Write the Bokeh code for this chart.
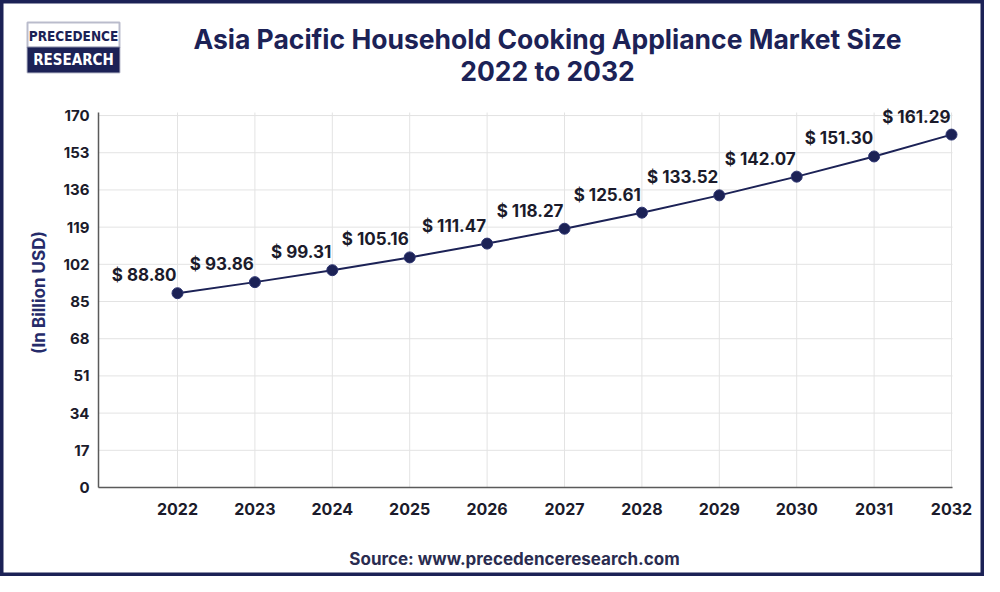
from bokeh.plotting import figure
from bokeh.models import (Range1d, FixedTicker, Label, LabelSet, ColumnDataSource,
                          BoxAnnotation)
from bokeh.core.properties import value
from bokeh.embed import file_html
from bokeh.resources import INLINE
import math

# ---- data ----
years = [2022, 2023, 2024, 2025, 2026, 2027, 2028, 2029, 2030, 2031, 2032]
values = [88.80, 93.86, 99.31, 105.16, 111.47, 118.27, 125.61, 133.52, 142.07, 151.30, 161.29]
value_labels = ["$ %.2f" % v for v in values]
y_ticks = [0, 17, 34, 51, 68, 85, 102, 119, 136, 153, 170]
x_ticks = years

title_line1 = "Asia Pacific Household Cooking Appliance Market Size"
title_line2 = "2022 to 2032"
y_label = "(In Billion USD)"
source_text = "Source: www.precedenceresearch.com"

NAVY = "#1c2256"
DARK = "#1b1b2b"
FONT = "Inter"
LOGO_FONT = "DejaVu Sans Condensed, Roboto, sans-serif"

W, H = 984, 576

# helpers converting picture pixels to data coordinates (text/logo placement)
def rx(X):
    return 2022 + (X - 177) / 77.4

def ry(Y):
    return (487 - Y) / 2.188

X_LEFT, X_RIGHT = rx(98), rx(952)
Y_TOP = ry(112)

p = figure(width=W, height=H, output_backend="svg", toolbar_location=None,
           x_range=Range1d(rx(0), rx(W)), y_range=Range1d(ry(H), ry(0)),
           min_border=0, min_border_left=0, min_border_right=0,
           min_border_top=0, min_border_bottom=0)
p.outline_line_color = NAVY
p.outline_line_width = 6
p.background_fill_color = "white"
p.border_fill_color = "white"
p.xgrid.visible = False
p.ygrid.visible = False

# grid lines from the tick arrays
p.segment(x0=x_ticks, y0=[0] * len(x_ticks), x1=x_ticks, y1=[Y_TOP] * len(x_ticks),
          line_color="#e3e3e3", line_width=1)
p.segment(x0=[X_LEFT] * len(y_ticks), y0=y_ticks, x1=[X_RIGHT] * len(y_ticks), y1=y_ticks,
          line_color="#e3e3e3", line_width=1)

# axes placed at fixed locations inside the canvas
p.xaxis.ticker = FixedTicker(ticks=x_ticks)
p.yaxis.ticker = FixedTicker(ticks=y_ticks)
p.xaxis.fixed_location = 0
p.yaxis.fixed_location = X_LEFT
p.xaxis.bounds = (X_LEFT, X_RIGHT)
p.yaxis.bounds = (0, Y_TOP)
for ax in (p.xaxis, p.yaxis):
    ax.axis_line_color = "#5a5a5a"
    ax.axis_line_width = 1.5
    ax.major_tick_line_color = None
    ax.minor_tick_line_color = None
    ax.major_tick_out = 0
    ax.major_tick_in = 0
    ax.major_label_text_font = FONT
    ax.major_label_text_font_style = "bold"
    ax.major_label_text_color = DARK
p.xaxis.major_label_text_font_size = "16px"
p.yaxis.major_label_text_font_size = "15px"
p.xaxis.major_label_standoff = 15
p.yaxis.major_label_standoff = 9

# line + markers
src = ColumnDataSource(dict(x=years, y=values, lab=value_labels))
p.line("x", "y", source=src, line_color=NAVY, line_width=2)
p.scatter("x", "y", source=src, size=11, fill_color=NAVY, line_color="#2d3470",
          line_width=1)

labels = LabelSet(x="x", y="y", text="lab", source=src, x_offset=-1, y_offset=8,
                  text_align="right", text_baseline="bottom", text_font=value(FONT),
                  text_font_style="bold", text_font_size="17px", text_color=DARK)
p.add_layout(labels)

# titles
p.add_layout(Label(x=rx(547), y=ry(38), text=title_line1, text_align="center",
                   text_baseline="middle", text_font=FONT, text_font_style="bold",
                   text_font_size="26.5px", text_color=NAVY))
p.add_layout(Label(x=rx(547), y=ry(70), text=title_line2, text_align="center",
                   text_baseline="middle", text_font=FONT, text_font_style="bold",
                   text_font_size="26.5px", text_color=NAVY))

# y axis label
p.add_layout(Label(x=rx(38), y=ry(292), text=y_label, angle=math.pi / 2,
                   text_align="center", text_baseline="middle", text_font=FONT,
                   text_font_style="bold", text_font_size="17px", text_color="#262b6a"))

# source
p.add_layout(Label(x=rx(514), y=ry(558), text=source_text, text_align="center",
                   text_baseline="middle", text_font=FONT, text_font_style="bold",
                   text_font_size="17px", text_color="#2a2c50"))

# logo
p.add_layout(BoxAnnotation(left=rx(27), right=rx(119), top=ry(22), bottom=ry(47),
                           fill_color="white", fill_alpha=1, line_color=NAVY,
                           line_width=2))
p.add_layout(BoxAnnotation(left=rx(27), right=rx(119), top=ry(47), bottom=ry(72),
                           fill_color=NAVY, fill_alpha=1, line_color=NAVY,
                           line_width=2))
p.add_layout(Label(x=rx(73), y=ry(35), text="PRECEDENCE", text_align="center",
                   text_baseline="middle", text_font=LOGO_FONT,
                   text_font_style="bold", text_font_size="13.5px", text_color=NAVY))
p.add_layout(Label(x=rx(73), y=ry(59.5), text="RESEARCH", text_align="center",
                   text_baseline="middle", text_font=LOGO_FONT,
                   text_font_style="bold", text_font_size="15px", text_color="white"))

open("out.html", "w").write(file_html(p, INLINE))
